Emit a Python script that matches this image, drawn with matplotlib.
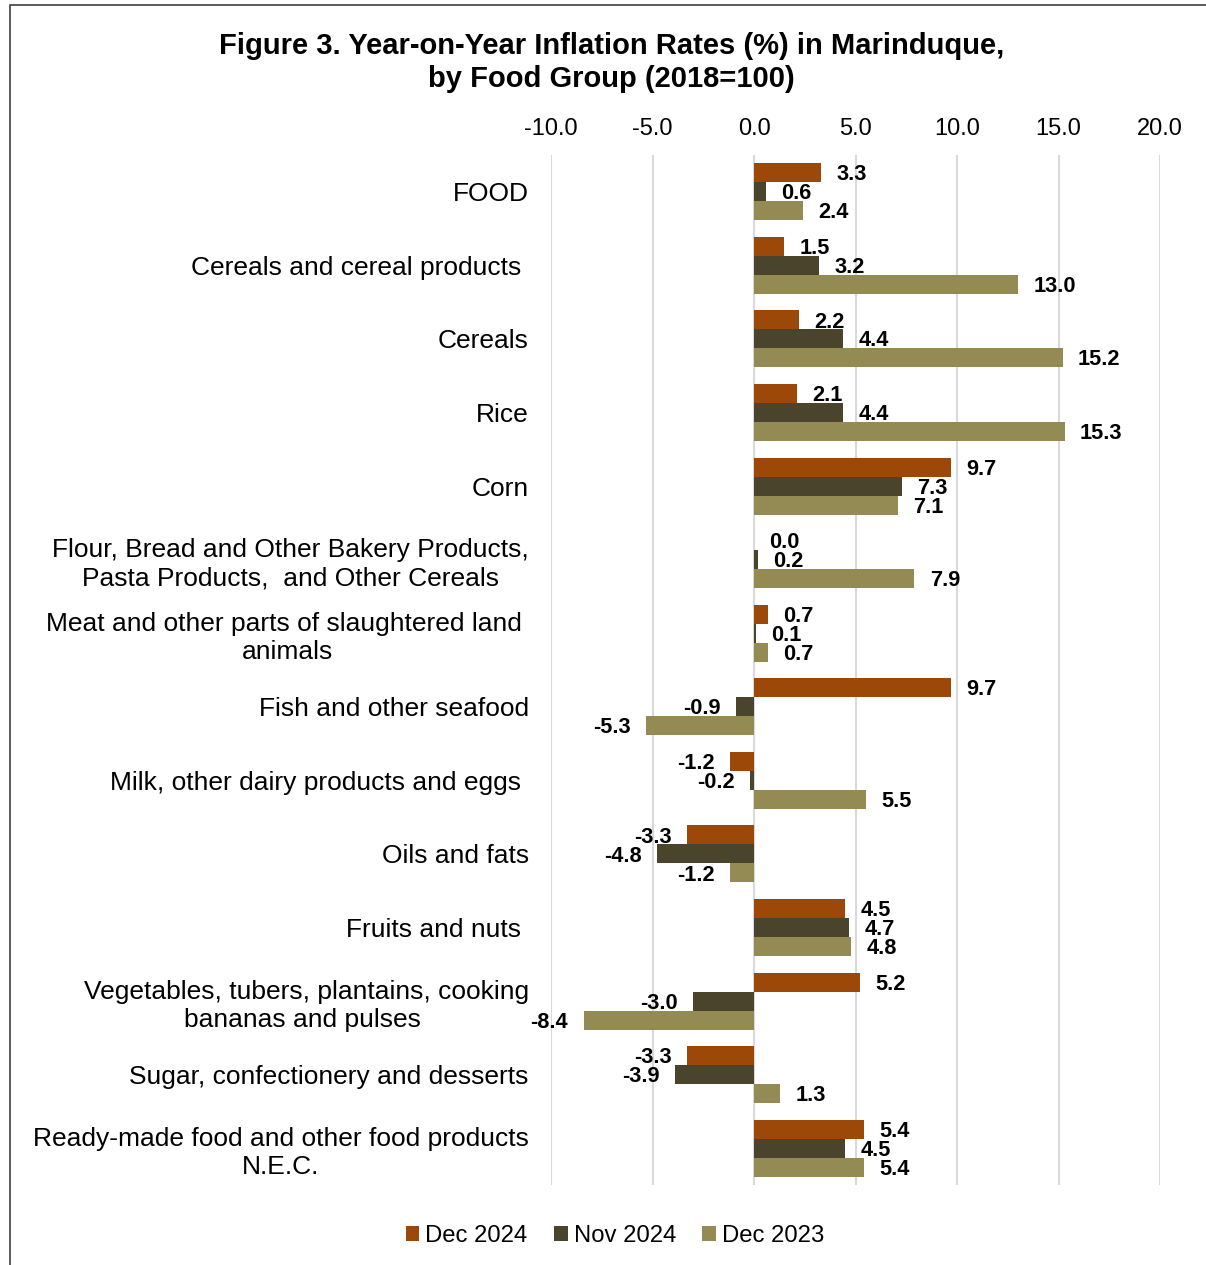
import numpy as np
import matplotlib.pyplot as plt
from matplotlib.patches import Rectangle

plt.rcParams['font.family'] = ['Liberation Sans', 'DejaVu Sans']

# categories (top to bottom)
categories = [
    "FOOD",
    "Cereals and cereal products ",
    "Cereals",
    "Rice",
    "Corn",
    "Flour, Bread and Other Bakery Products,\nPasta Products,  and Other Cereals",
    "Meat and other parts of slaughtered land \nanimals",
    "Fish and other seafood",
    "Milk, other dairy products and eggs ",
    "Oils and fats",
    "Fruits and nuts ",
    "Vegetables, tubers, plantains, cooking\nbananas and pulses ",
    "Sugar, confectionery and desserts",
    "Ready-made food and other food products\nN.E.C.",
]

series_names = ["Dec 2024", "Nov 2024", "Dec 2023"]
dec_2024 = [3.3, 1.5, 2.2, 2.1, 9.7, 0.0, 0.7, 9.7, -1.2, -3.3, 4.5, 5.2, -3.3, 5.4]
nov_2024 = [0.6, 3.2, 4.4, 4.4, 7.3, 0.2, 0.1, -0.9, -0.2, -4.8, 4.7, -3.0, -3.9, 4.5]
dec_2023 = [2.4, 13.0, 15.2, 15.3, 7.1, 7.9, 0.7, -5.3, 5.5, -1.2, 4.8, -8.4, 1.3, 5.4]
colors = ["#9C4808", "#4A442C", "#948B54"]

xticks = [-10, -5, 0, 5, 10, 15, 20]

fig = plt.figure(figsize=(12.06, 12.65), dpi=100)
ax = fig.add_axes([0.4569, 0.0632, 0.5050, 0.8143])

y = np.arange(len(categories))
h = 0.258
for i, (vals, col, name) in enumerate(zip([dec_2024, nov_2024, dec_2023], colors, series_names)):
    bars = ax.barh(y + (i - 1) * h, vals, height=h, color=col, label=name,
                   edgecolor='none', zorder=3)
    labels = ax.bar_label(bars, labels=[f"{v:.1f}" for v in vals], padding=11,
                          fontsize=15.7, fontweight='bold', color='black')
    for t in labels:
        # nudge labels slightly below the bar centre, as in the original
        t.xyann = (t.xyann[0], -1.5)

ax.set_ylim(len(categories) - 0.5, -0.5)
ax.set_xlim(-10, 20)
ax.set_xticks(xticks)
ax.set_xticklabels([f"{t:.1f}" for t in xticks])
ax.xaxis.tick_top()
ax.tick_params(axis='x', length=0, pad=11, labelsize=17)
ax.set_yticks(y)
ax.set_yticklabels(categories, fontsize=19, multialignment='center', linespacing=1.22)
ax.tick_params(axis='y', length=0, pad=16)
ax.grid(axis='x', color='#D9D9D9', linewidth=1.5, zorder=0)
for s in ax.spines.values():
    s.set_visible(False)

fig.text(0.507, 0.9745, "Figure 3. Year-on-Year Inflation Rates (%) in Marinduque,\nby Food Group (2018=100)",
         ha='center', va='top', fontsize=21, fontweight='bold', linespacing=1.2)

fig.legend(loc='center', bbox_to_anchor=(0.51, 0.023), ncol=3, frameon=False,
           fontsize=17.2, handlelength=0.58, handleheight=0.58, handletextpad=0.25,
           columnspacing=1.1)

# outer frame (partially outside the image)
fig.patches.append(Rectangle((10 / 1206, -0.1), 1.2, 1 - 5 / 1265 + 0.1,
                             transform=fig.transFigure, fill=False,
                             edgecolor='#404040', linewidth=1.2))

fig.savefig("out.png", dpi=100)
